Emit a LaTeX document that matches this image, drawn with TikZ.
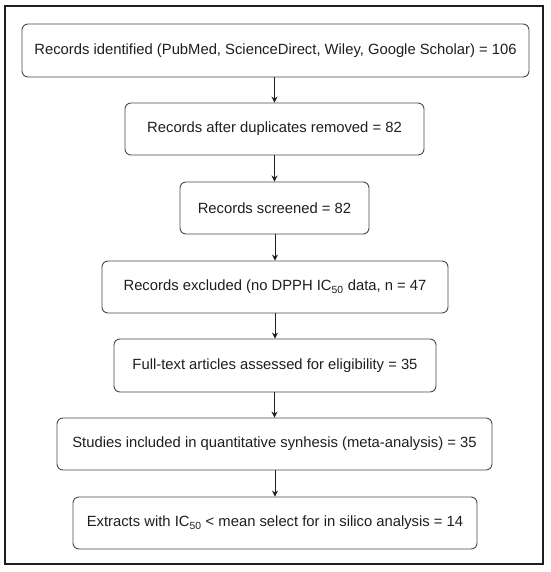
\documentclass[tikz,border=0pt]{standalone}
\usepackage{fontspec}
\setmainfont{Liberation Sans}
\usetikzlibrary{arrows.meta}
\definecolor{boxline}{HTML}{4A4A4A}
\definecolor{txt}{HTML}{1E1E1E}
\tikzset{
  flowbox/.style={draw=boxline, line width=0.9pt, rounded corners=6pt, rectangle, align=center, text=txt, font=\fontsize{14.8}{17}\selectfont, inner sep=0pt},
  flowarrow/.style={draw=txt, line width=0.9pt, -{Stealth[length=6pt,width=6pt]}}
}
\begin{document}
\begin{tikzpicture}[x=1pt,y=-1pt]
\useasboundingbox (0,0) rectangle (550,572);
\draw[line width=2pt, draw=txt] (5,6) rectangle (543,564);
\node[flowbox, minimum width=507pt, minimum height=53pt] (n1) at (275.5,50.5) {Records identified (PubMed, ScienceDirect, Wiley, Google Scholar) = 106};
\node[flowbox, minimum width=299pt, minimum height=52pt] (n2) at (274.5,129) {Records after duplicates removed = 82};
\node[flowbox, minimum width=189pt, minimum height=52pt] (n3) at (274.5,208) {Records screened = 82};
\node[flowbox, minimum width=346pt, minimum height=52pt] (n4) at (275,287) {Records excluded (no DPPH IC\textsubscript{50} data, n = 47};
\node[flowbox, minimum width=322pt, minimum height=53pt] (n5) at (275,365.5) {Full-text articles assessed for eligibility = 35};
\node[flowbox, minimum width=435pt, minimum height=52pt] (n6) at (274.5,444) {Studies included in quantitative synhesis (meta-analysis) = 35};
\node[flowbox, minimum width=404pt, minimum height=52pt] (n7) at (275,523) {Extracts with IC\textsubscript{50} < mean select for in silico analysis = 14};
\draw[flowarrow] (n1.south -| n2.north) -- (n2.north);
\draw[flowarrow] (n2.south) -- (n3.north);
\draw[flowarrow] (n3.south -| n4.north) -- (n4.north);
\draw[flowarrow] (n4.south) -- (n5.north);
\draw[flowarrow] (n5.south -| n6.north) -- (n6.north);
\draw[flowarrow] (n6.south -| n7.north) -- (n7.north);
\end{tikzpicture}
\end{document}
